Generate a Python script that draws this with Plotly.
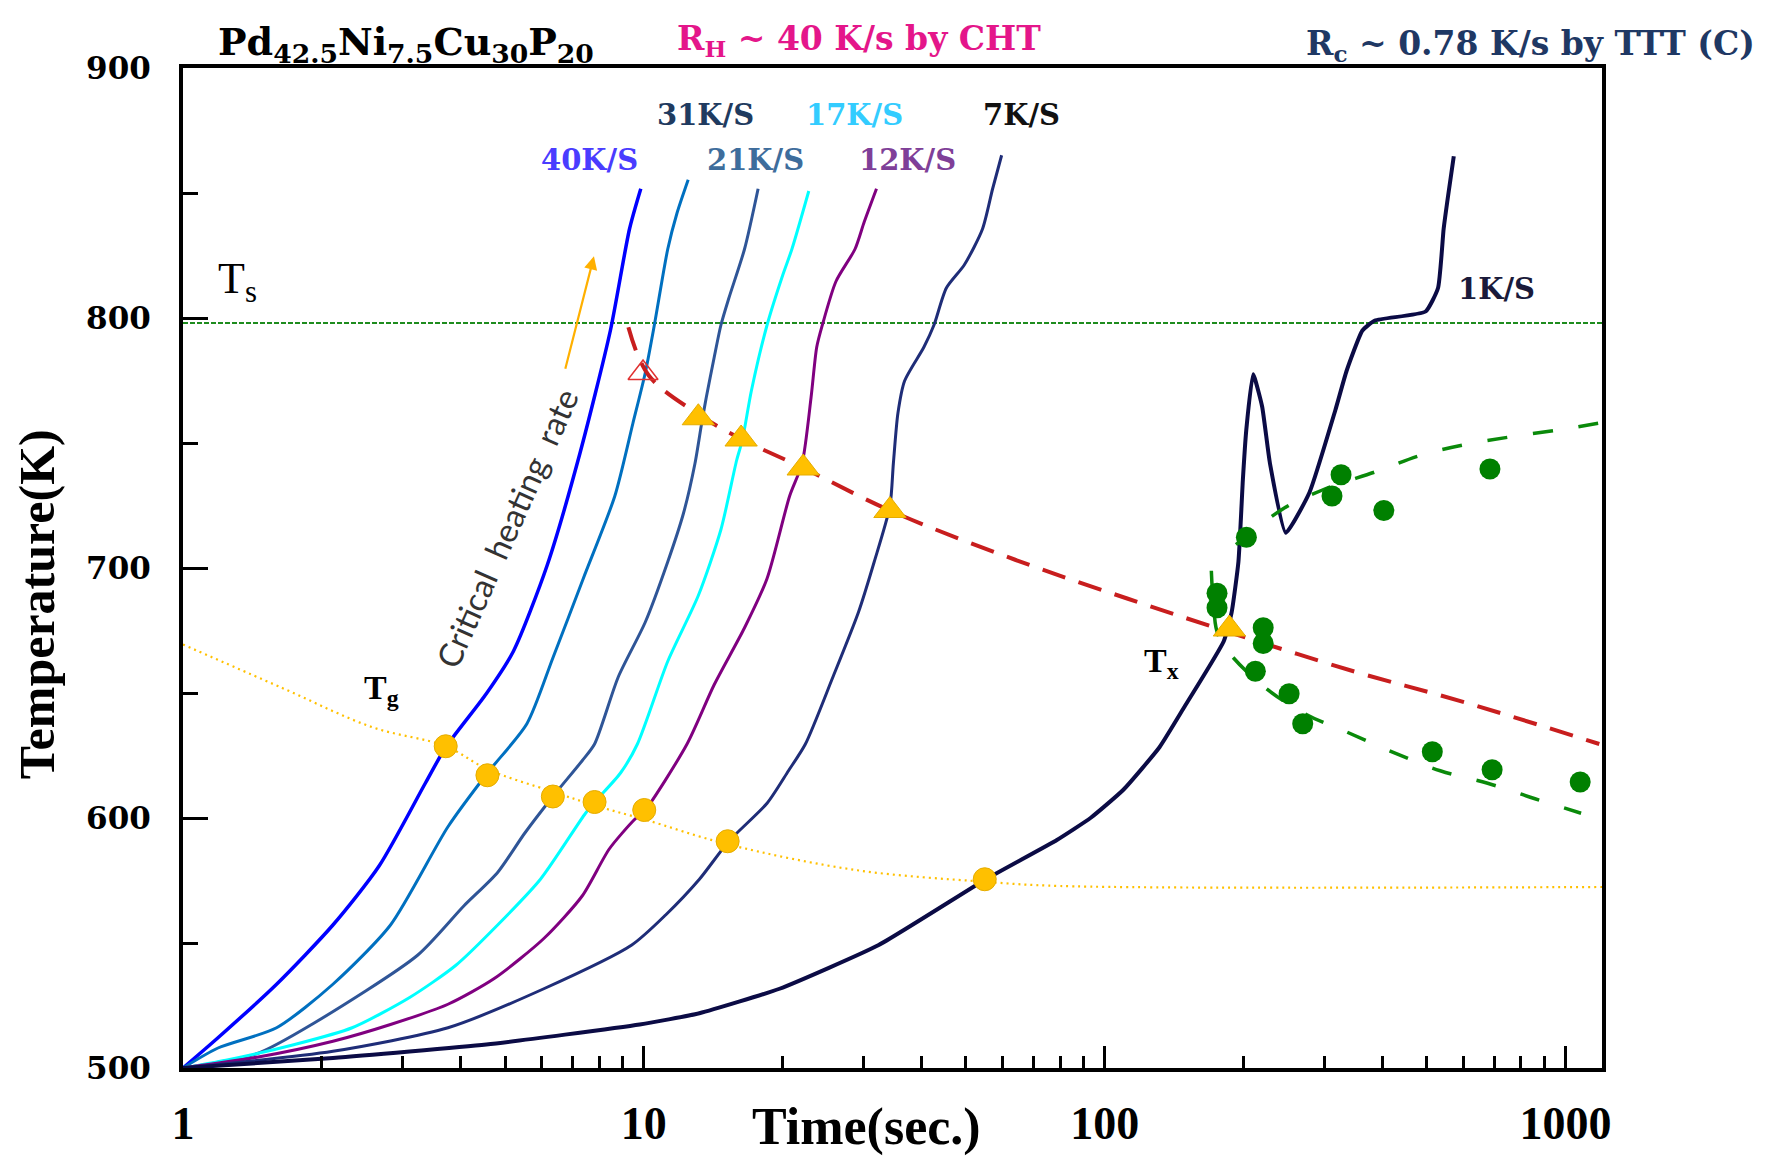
import math
import plotly.graph_objects as go

# ---------------- data ----------------
# heating curves: time (s) / temperature (K)
t_40 = [1, 1.191, 1.596, 2.115, 2.666, 3.358, 3.716, 4.551, 5.212, 6.170, 7.265, 8.461, 9.309, 9.849]
T_40 = [500, 512.1, 533.5, 557.2, 580.9, 614.0, 628.3, 649.7, 666.7, 701.1, 745.8, 795.0, 835.6, 851.7]

t_31 = [1, 1.191, 1.596, 2.115, 2.820, 3.758, 4.577, 5.575, 6.347, 7.390, 8.651, 9.469, 10.07, 10.54, 11.27, 11.80, 12.48]
T_31 = [500, 508.0, 516.1, 533.5, 557.2, 596.5, 618.0, 637.7, 664.0, 695.8, 728.8, 757.9, 778.0, 797.2, 827.6, 841.9, 855.3]

t_21 = [1, 1.450, 1.922, 3.228, 4.067, 4.816, 5.513, 6.347, 7.348, 7.818, 8.800, 10.07, 11.27, 12.20, 12.91, 13.35, 13.66, 14.21, 14.70, 15.29, 16.54, 17.70]
T_21 = [500, 505.8, 517.9, 545.1, 564.8, 578.2, 593.9, 608.6, 622.9, 629.6, 656.4, 678.3, 702.5, 722.1, 741.8, 757.9, 768.2, 784.2, 797.2, 807.9, 827.6, 851.7]

t_17 = [1, 1.239, 1.747, 2.328, 3.103, 3.910, 4.816, 5.965, 7.472, 7.862, 8.899, 9.685, 11.27, 13.13, 14.70, 15.90, 16.36, 17.11, 18.51, 20.03, 20.96, 22.80]
T_17 = [500, 503.1, 509.4, 516.1, 528.2, 541.1, 557.2, 575.5, 601.9, 606.8, 618.0, 629.6, 662.7, 689.0, 715.4, 743.1, 751.2, 770.8, 797.2, 817.3, 827.6, 850.8]

t_12 = [1, 1.467, 2.115, 2.820, 3.758, 4.735, 6.067, 7.348, 8.413, 9.522, 10.07, 12.41, 14.21, 16.54, 18.51, 20.72, 22.05, 23.06, 23.72, 24.40, 26.11, 28.73, 30.06, 31.98]
T_12 = [500, 504.5, 510.7, 517.4, 525.5, 535.8, 551.8, 568.8, 587.6, 599.2, 603.2, 629.6, 653.3, 676.1, 695.8, 728.8, 741.8, 768.2, 788.3, 797.2, 814.6, 827.6, 838.3, 851.7]

t_7 = [1, 2.115, 3.758, 6.067, 9.415, 11.15, 13.20, 15.29, 18.51, 20.60, 22.42, 25.67, 29.22, 31.62, 34.20, 34.79, 35.59, 36.81, 40.51, 42.62, 45.34, 49.61, 54.31, 57.13, 59.76]
T_7 = [500, 506.7, 516.1, 531.7, 549.2, 561.2, 575.5, 590.7, 605.9, 618.9, 629.6, 656.0, 682.3, 702.5, 724.8, 741.8, 761.9, 774.9, 788.3, 797.2, 812.0, 821.3, 835.6, 851.7, 865.1]

t_1 = [1, 2.115, 4.551, 9.795, 13.20, 19.70, 32.34, 55.23, 78.76, 93.3, 109.8, 131.5, 148.9, 181.3, 188.6, 195.1, 199.5, 202.9, 209.9, 219.6, 228.4, 247.2, 278.2, 316.7, 335.0, 362.5, 385.8, 497.0, 528.9, 543.9, 556.3, 572.2]
T_1 = [500, 504.0, 509.4, 517.4, 521.9, 531.7, 549.2, 575.5, 591.2, 600.1, 611.3, 628.3, 644.4, 670.7, 682.3, 702.5, 735.5, 755.2, 777.5, 764.6, 741.8, 714.1, 730.2, 763.2, 778.9, 795.0, 799.0, 802.6, 812.0, 835.6, 849.0, 864.7]

curve_names = ["40K/S", "31K/S", "21K/S", "17K/S", "12K/S", "7K/S", "1K/S"]
curve_colors = ["#0000FF", "#0070C0", "#2F5597", "#00FFFF", "#800080", "#1F2D78", "#0B0B45"]
curve_widths = [3.5, 3, 3, 3, 3, 3, 4]
curve_smooth = [0.7, 0.7, 0.7, 0.7, 0.7, 0.7, 0.45]

# glass transition (Tg) line and points
tg_line_t = [1, 1.642, 2.577, 3.716, 4.577, 6.347, 8.0, 10.0, 15.2, 29.06, 54.92, 80.1, 1200]
tg_line_T = [669.4, 652.0, 636.3, 628.7, 619.5, 610.5, 604.5, 599.5, 589.5, 579.1, 574.5, 572.8, 572.4]
tg_pts_t = [3.716, 4.577, 6.347, 7.818, 10.02, 15.20, 54.92]
tg_pts_T = [628.7, 617.1, 608.6, 606.4, 603.2, 590.7, 575.5]

# solidus temperature
ts_T = 798.0
ts_t = [1, 1200]

# crystallisation (Tx) dashed line and points
tx_line_t = [9.257, 10.24, 13.13, 16.26, 22.17, 34.20, 63.93, 112.3, 186.5, 346.6, 608.8, 1184]
tx_line_T = [796.3, 777.1, 761.5, 751.6, 740.0, 723.0, 703.3, 687.7, 674.3, 658.7, 646.1, 629.6]
tx_pts_t = [13.13, 16.26, 22.17, 34.20, 186.5]
tx_pts_T = [760.1, 751.6, 740.0, 723.0, 675.6]
tx_open_t = [9.96]
tx_open_T = [778.0]

# TTT data (green)
ttt_pts_t = [175.3, 175.3, 203, 220.8, 220.8, 212.3, 251.3, 269, 311.4, 325.8, 403.4, 685.5, 514, 693, 1076]
ttt_pts_T = [689.9, 684.1, 712.3, 676.1, 669.8, 658.7, 649.7, 637.7, 728.8, 737.3, 723.0, 739.6, 626.5, 619.3, 614.4]
ttt_upper_t = [1177, 994, 788.9, 622.6, 491.4, 390.2, 296.0, 243.0, 183.4]
ttt_upper_T = [757.9, 755.6, 752.9, 749.8, 745.4, 738.7, 731.1, 723.5, 706.0]
ttt_lower_t = [170.4, 172.3, 177.3, 214.7, 272.0, 329.5, 415.0, 534.8, 677.7, 858.6, 1081]
ttt_lower_T = [698.9, 685.5, 672.1, 654.6, 641.7, 635.0, 626.9, 618.9, 613.9, 607.7, 601.9]

x_tick_vals = [1, 10, 100, 1000]
x_tick_text = ["1", "10", "100", "1000"]
x_minor_vals = [m * d for d in (1, 10, 100) for m in range(2, 10)]
y_range = [500, 900]
x_max = 1200

curves = [(t_40, T_40), (t_31, T_31), (t_21, T_21), (t_17, T_17), (t_12, T_12), (t_7, T_7), (t_1, T_1)]

# ---------------- figure ----------------
fig = go.Figure()

fig.add_trace(go.Scatter(x=ts_t, y=[ts_T, ts_T], mode="lines",
                         line=dict(color="#1E8C1E", width=2, dash="5px,2px")))
fig.add_trace(go.Scatter(x=tg_line_t, y=tg_line_T, mode="lines",
                         line=dict(color="#FFC000", width=2.2, dash="2px,4px", shape="spline")))

for (tt, TT), name, col, w, sm in zip(curves, curve_names, curve_colors, curve_widths, curve_smooth):
    fig.add_trace(go.Scatter(x=tt, y=TT, mode="lines", name=name,
                             line=dict(color=col, width=w, shape="spline", smoothing=sm)))

fig.add_trace(go.Scatter(x=tx_line_t, y=tx_line_T, mode="lines",
                         line=dict(color="#C81E1E", width=4, dash="24px,14px", shape="spline")))
for tt, TT in ((ttt_upper_t, ttt_upper_T), (ttt_lower_t, ttt_lower_T)):
    fig.add_trace(go.Scatter(x=tt, y=TT, mode="lines",
                             line=dict(color="#0A8A0A", width=3.5, dash="20px,26px", shape="spline")))
fig.add_trace(go.Scatter(x=ttt_pts_t, y=ttt_pts_T, mode="markers",
                         marker=dict(symbol="circle", size=21, color="#008000")))
fig.add_trace(go.Scatter(x=tg_pts_t, y=tg_pts_T, mode="markers",
                         marker=dict(symbol="circle", size=23, color="#FFC000",
                                     line=dict(color="#E5AC00", width=1))))
fig.add_trace(go.Scatter(x=tx_open_t, y=tx_open_T, mode="markers",
                         marker=dict(symbol="triangle-up-open", size=26, color="#E03030",
                                     line=dict(width=1.5))))
fig.add_trace(go.Scatter(x=tx_pts_t, y=tx_pts_T, mode="markers",
                         marker=dict(symbol="triangle-up", size=28, color="#FFC000",
                                     line=dict(color="#E5AC00", width=1))))

serif = "Liberation Serif"
wide = "DejaVu Serif"

ann = []
def label(text, x, y, size, color="black", family=wide, bold=True, xanchor="center", angle=0):
    ann.append(dict(text=text, x=x, y=y, xref="paper", yref="paper", showarrow=False,
                    xanchor=xanchor, yanchor="middle", textangle=angle,
                    font=dict(family=family, size=size, color=color,
                              weight="bold" if bold else "normal")))

label("Pd<sub>42.5</sub>Ni<sub>7.5</sub>Cu<sub>30</sub>P<sub>20</sub>", 0.0233, 1.0245, 38, xanchor="left")
label("R<sub>H</sub> ~ 40 K/s by CHT", 0.4764, 1.0277, 33, color="#E4168A")
label("R<sub>c</sub> ~ 0.78 K/s by TTT (C)", 0.9493, 1.0227, 33, color="#1F3864")

label("31K/S", 0.3679, 0.9534, 29, color="#1F3B60")
label("17K/S", 0.4729, 0.9534, 29, color="#33CCFF")
label("7K/S", 0.5906, 0.9534, 29, color="#111111")
label("40K/S", 0.2868, 0.9078, 29, color="#4A3CFF")
label("21K/S", 0.4038, 0.9078, 29, color="#3E6D9C")
label("12K/S", 0.5109, 0.9078, 29, color="#7F3F98")
label("1K/S", 0.9260, 0.7790, 29, color="#1A1A3A")

label("T<sub>s</sub>", 0.0381, 0.7869, 44, family=serif, bold=False)
label("T<sub>g</sub>", 0.1402, 0.3776, 34, family=serif)
label("T<sub>x</sub>", 0.6899, 0.4053, 34, family=serif)

label("Critical  heating  rate", 0.2280, 0.5400, 33, color="#333333", family="Lato", bold=False, angle=-66)

label("Time(sec.)", 0.4820, -0.0585, 52, family=serif)
label("Temperature(K)", -0.1029, 0.4638, 50, family=serif, angle=-90)

ann.append(dict(x=0.2896, y=0.8117, xref="paper", yref="paper", ax=-29, ay=114,
                showarrow=True, arrowhead=2, arrowsize=1.2, arrowwidth=2.2,
                arrowcolor="#FFB000", text=""))

fig.update_layout(
    width=1769, height=1161,
    margin=dict(l=183, r=167, t=68, b=84),
    paper_bgcolor="white", plot_bgcolor="white",
    showlegend=False,
    annotations=ann,
)

fig.update_xaxes(type="log", range=[0, math.log10(x_max)],
                 tickvals=x_tick_vals, ticktext=x_tick_text,
                 ticks="inside", ticklen=22, tickwidth=3, tickcolor="black",
                 minor=dict(tickvals=x_minor_vals, ticks="inside", ticklen=12, tickwidth=2.5, tickcolor="black"),
                 showline=True, linewidth=4, linecolor="black", mirror=True,
                 showgrid=False, zeroline=False, ticklabelstandoff=12,
                 tickfont=dict(family=serif, size=46, color="black", weight="bold"))
fig.update_yaxes(range=y_range, dtick=100,
                 ticks="inside", ticklen=25, tickwidth=3, tickcolor="black",
                 minor=dict(dtick=50, ticks="inside", ticklen=15, tickwidth=3, tickcolor="black"),
                 showline=True, linewidth=4, linecolor="black", mirror=True,
                 showgrid=False, zeroline=False, ticklabelstandoff=22,
                 tickfont=dict(family=wide, size=31, color="black", weight="bold"))

fig.write_html("out.html")
